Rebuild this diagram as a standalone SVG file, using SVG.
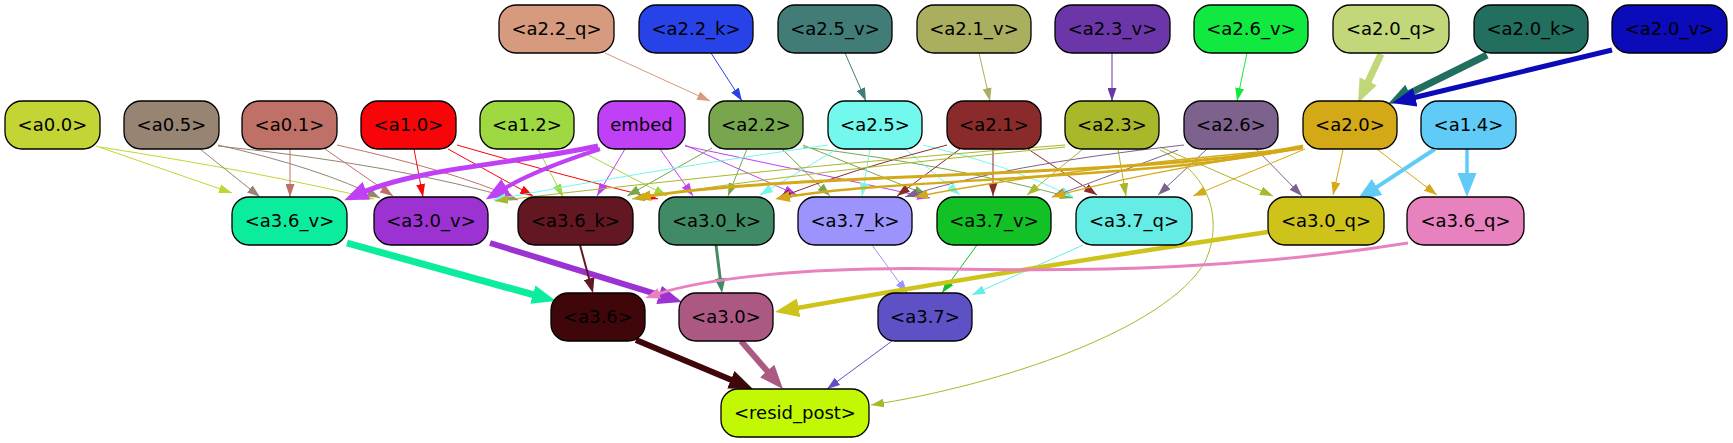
<svg xmlns="http://www.w3.org/2000/svg" width="1733" height="443" viewBox="0 0 1733 443">
<style>
.n rect{stroke:#000;stroke-width:1.3}
.n text{font-family:"DejaVu Sans",Verdana,sans-serif;font-size:18px;text-anchor:middle;fill:#000}
#edges path{fill:none;stroke-width:1}
.s{marker-end:url(#as)}
.m{marker-end:url(#am)}
.l{marker-end:url(#al)}
</style>
<defs>
<marker id="as" viewBox="0 0 13 9" refX="13" refY="4.5" markerWidth="13" markerHeight="9" markerUnits="userSpaceOnUse" orient="auto"><path d="M0,0L13,4.5L0,9z" fill="context-stroke"/></marker>
<marker id="am" viewBox="0 0 15 11" refX="2" refY="5.5" markerWidth="15" markerHeight="11" markerUnits="userSpaceOnUse" orient="auto"><path d="M0,0L15,5.5L0,11z" fill="context-stroke"/></marker>
<marker id="al" viewBox="0 0 24 19" refX="4" refY="9.5" markerWidth="24" markerHeight="19" markerUnits="userSpaceOnUse" orient="auto"><path d="M0,0L24,9.5L0,19z" fill="context-stroke"/></marker>
</defs>
<rect width="1733" height="443" fill="#fff"/>
<g id="edges">
<path class="s" d="M605,53 L710,101" stroke="#d69a7e"/>
<path class="s" d="M711,53 L742,101" stroke="#2743e8"/>
<path class="s" d="M845,53 L866,101" stroke="#417d76"/>
<path class="s" d="M979,53 L990,101" stroke="#a9af5f"/>
<path class="s" d="M1112,53 L1112,101" stroke="#6b37a8"/>
<path class="s" d="M1247,53 L1237,101" stroke="#11e840"/>
<path class="l" d="M1381,54 L1366.5,84.9" stroke="#c2d77a" style="stroke-width:7"/>
<path class="l" d="M1487,55 L1405.9,95.1" stroke="#226f5f" style="stroke-width:7"/>
<path class="l" d="M1612,50 L1411.4,98.3" stroke="#0b0bb9" style="stroke-width:5"/>

<path class="s" d="M96,146 L232,193" stroke="#c2d534"/>
<path class="s" d="M100,147 Q260,172 374,199" stroke="#c2d534"/>
<path class="s" d="M200,149 L260,197" stroke="#978472"/>
<path class="s" d="M218,145 Q320,168 380,198" stroke="#978472"/>
<path class="s" d="M218,146 Q400,165 518,200" stroke="#978472"/>
<path class="s" d="M290,149 L290,197" stroke="#c07167"/>
<path class="s" d="M325,149 L393,196" stroke="#c07167"/>
<path class="s" d="M337,145 Q450,170 515,198" stroke="#c07167"/>
<path class="s" d="M414,149 L423,197" stroke="#f8050a"/>
<path class="s" d="M448,149 L533,196" stroke="#f8050a"/>
<path class="s" d="M457,145 Q560,175 658,199" stroke="#f8050a"/>
<path class="s" d="M538,149 L563,197" stroke="#9ed942"/>
<path class="s" d="M575,148 L667,196" stroke="#9ed942"/>
<path class="l" d="M598,146 C520,163 420,168 362.6,192.4" stroke="#c040f5" style="stroke-width:5"/>
<path class="l" d="M600,149 Q535,170 502.9,189.3" stroke="#c040f5" style="stroke-width:4"/>
<path class="s" d="M625,149 L597,196" stroke="#c040f5"/>
<path class="s" d="M660,149 L693,196" stroke="#c040f5"/>
<path class="s" d="M685,145 L797,195" stroke="#c040f5"/>
<path class="s" d="M685,146 Q800,170 930,198" stroke="#c040f5"/>
<path class="s" d="M712,148 L627,196" stroke="#78a64e"/>
<path class="s" d="M747,149 L728,196" stroke="#78a64e"/>
<path class="s" d="M782,149 L830,196" stroke="#78a64e"/>
<path class="s" d="M803,145 L927,195" stroke="#78a64e"/>
<path class="s" d="M803,147 Q950,165 1073,198" stroke="#78a64e"/>
<path class="s" d="M828,145 Q650,170 493,200" stroke="#72f8ec"/>
<path class="s" d="M837,149 L760,195" stroke="#72f8ec"/>
<path class="s" d="M870,149 L862,196" stroke="#72f8ec"/>
<path class="s" d="M905,149 L960,195" stroke="#72f8ec"/>
<path class="s" d="M923,145 Q1010,165 1073,197" stroke="#72f8ec"/>
<path class="s" d="M947,145 Q850,170 778,198" stroke="#8a2b2b"/>
<path class="s" d="M960,149 L897,196" stroke="#8a2b2b"/>
<path class="s" d="M993,149 L993,196" stroke="#8a2b2b"/>
<path class="s" d="M1028,149 L1097,195" stroke="#8a2b2b"/>
<path class="s" d="M1065,145 Q800,165 495,201" stroke="#a8b82a"/>
<path class="s" d="M1065,147 Q800,172 632,199" stroke="#a8b82a"/>
<path class="s" d="M1083,149 L1027,195" stroke="#a8b82a"/>
<path class="s" d="M1118,149 L1126,196" stroke="#a8b82a"/>
<path class="s" d="M1160,147 L1273,196" stroke="#a8b82a"/>
<path class="s" d="M1160,150 C1215,175 1222,225 1205,262 C1165,330 1000,385 871,405" stroke="#a8b82a"/>
<path class="s" d="M1184,145 Q1000,165 905,197" stroke="#7e628e"/>
<path class="s" d="M1178,150 L1052,197" stroke="#7e628e"/>
<path class="s" d="M1207,149 L1158,195" stroke="#7e628e"/>
<path class="s" d="M1255,148 L1302,196" stroke="#7e628e"/>
<path class="m" d="M1303,146 C1150,178 800,172 648.8,196" stroke="#d3a918" style="stroke-width:3"/>
<path class="m" d="M1303,147 C1150,180 900,178 787.8,196.8" stroke="#d3a918" style="stroke-width:2.5"/>
<path class="s" d="M1303,148 Q1050,170 915,197" stroke="#d3a918" style="stroke-width:1.5"/>
<path class="s" d="M1303,149 Q1150,170 1052,197" stroke="#d3a918" style="stroke-width:1.2"/>
<path class="s" d="M1305,149 L1193,196" stroke="#d3a918"/>
<path class="s" d="M1343,150 L1333,195" stroke="#d3a918"/>
<path class="s" d="M1378,150 L1437,195" stroke="#d3a918"/>
<path class="l" d="M1435,149 L1373.7,189.1" stroke="#60cbf6" style="stroke-width:4"/>
<path class="l" d="M1467,149 L1467,177" stroke="#60cbf6" style="stroke-width:3.5"/>

<path class="l" d="M347,243 L536.7,295.7" stroke="#0bed9c" style="stroke-width:7"/>
<path class="l" d="M490,243 L662.9,296.1" stroke="#9c32d2" style="stroke-width:6"/>
<path class="m" d="M580,245 L589.6,280.5" stroke="#631722" style="stroke-width:2"/>
<path class="m" d="M716,245 L720.4,280.1" stroke="#418a66" style="stroke-width:3"/>
<path class="s" d="M872,245 L907,293" stroke="#9c94fc"/>
<path class="s" d="M977,245 L942,293" stroke="#12c126"/>
<path class="s" d="M1083,245 L972,295" stroke="#64ece5"/>
<path class="l" d="M1268,232 Q1000,272 794.7,308.5" stroke="#cdc31b" style="stroke-width:4.5"/>
<path class="m" d="M1408,243 C1250,268 1100,272 950,269 C800,266 700,280 657.4,294" stroke="#e882bf" style="stroke-width:3"/>

<path class="l" d="M636,340 L734.5,381.3" stroke="#40070b" style="stroke-width:6"/>
<path class="l" d="M741,341 L769.8,374" stroke="#ab5983" style="stroke-width:6"/>
<path class="s" d="M892,341 L827,389" stroke="#5e51c5"/>
</g>

<g id="a2.2_q" class="n"><rect x="499" y="5" width="115" height="48" rx="17" fill="#d69a7e"/><text x="556.5" y="35">&lt;a2.2_q&gt;</text></g>
<g id="a2.2_k" class="n"><rect x="639" y="5" width="114" height="48" rx="17" fill="#2743e8"/><text x="696" y="35">&lt;a2.2_k&gt;</text></g>
<g id="a2.5_v" class="n"><rect x="778" y="5" width="114" height="48" rx="17" fill="#417d76"/><text x="835" y="35">&lt;a2.5_v&gt;</text></g>
<g id="a2.1_v" class="n"><rect x="917" y="5" width="114" height="48" rx="17" fill="#a9af5f"/><text x="974" y="35">&lt;a2.1_v&gt;</text></g>
<g id="a2.3_v" class="n"><rect x="1055" y="5" width="115" height="48" rx="17" fill="#6b37a8"/><text x="1112.5" y="35">&lt;a2.3_v&gt;</text></g>
<g id="a2.6_v" class="n"><rect x="1194" y="5" width="114" height="48" rx="17" fill="#11e840"/><text x="1251" y="35">&lt;a2.6_v&gt;</text></g>
<g id="a2.0_q" class="n"><rect x="1333" y="5" width="116" height="48" rx="17" fill="#c2d77a"/><text x="1391" y="35">&lt;a2.0_q&gt;</text></g>
<g id="a2.0_k" class="n"><rect x="1474" y="5" width="114" height="48" rx="17" fill="#226f5f"/><text x="1531" y="35">&lt;a2.0_k&gt;</text></g>
<g id="a2.0_v" class="n"><rect x="1612" y="5" width="115" height="48" rx="17" fill="#0b0bb9"/><text x="1669.5" y="35">&lt;a2.0_v&gt;</text></g>

<g id="a0.0" class="n"><rect x="5" y="101" width="95" height="48" rx="17" fill="#c2d534"/><text x="52.5" y="131">&lt;a0.0&gt;</text></g>
<g id="a0.5" class="n"><rect x="124" y="101" width="95" height="48" rx="17" fill="#978472"/><text x="171.5" y="131">&lt;a0.5&gt;</text></g>
<g id="a0.1" class="n"><rect x="242" y="101" width="95" height="48" rx="17" fill="#c07167"/><text x="289.5" y="131">&lt;a0.1&gt;</text></g>
<g id="a1.0" class="n"><rect x="361" y="101" width="95" height="48" rx="17" fill="#f8050a"/><text x="408.5" y="131">&lt;a1.0&gt;</text></g>
<g id="a1.2" class="n"><rect x="480" y="101" width="94" height="48" rx="17" fill="#9ed942"/><text x="527" y="131">&lt;a1.2&gt;</text></g>
<g id="embed" class="n"><rect x="598" y="101" width="87" height="48" rx="17" fill="#c040f5"/><text x="641.5" y="131">embed</text></g>
<g id="a2.2" class="n"><rect x="709" y="101" width="94" height="48" rx="17" fill="#78a64e"/><text x="756" y="131">&lt;a2.2&gt;</text></g>
<g id="a2.5" class="n"><rect x="828" y="101" width="94" height="48" rx="17" fill="#72f8ec"/><text x="875" y="131">&lt;a2.5&gt;</text></g>
<g id="a2.1" class="n"><rect x="947" y="101" width="94" height="48" rx="17" fill="#8a2b2b"/><text x="994" y="131">&lt;a2.1&gt;</text></g>
<g id="a2.3" class="n"><rect x="1065" y="101" width="94" height="48" rx="17" fill="#a8b82a"/><text x="1112" y="131">&lt;a2.3&gt;</text></g>
<g id="a2.6" class="n"><rect x="1184" y="101" width="94" height="48" rx="17" fill="#7e628e"/><text x="1231" y="131">&lt;a2.6&gt;</text></g>
<g id="a2.0" class="n"><rect x="1303" y="101" width="94" height="48" rx="17" fill="#d3a918"/><text x="1350" y="131">&lt;a2.0&gt;</text></g>
<g id="a1.4" class="n"><rect x="1421" y="101" width="95" height="48" rx="17" fill="#60cbf6"/><text x="1468.5" y="131">&lt;a1.4&gt;</text></g>

<g id="a3.6_v" class="n"><rect x="232" y="197" width="115" height="48" rx="17" fill="#0bed9c"/><text x="289.5" y="227">&lt;a3.6_v&gt;</text></g>
<g id="a3.0_v" class="n"><rect x="374" y="197" width="114" height="48" rx="17" fill="#9c32d2"/><text x="431" y="227">&lt;a3.0_v&gt;</text></g>
<g id="a3.6_k" class="n"><rect x="518" y="197" width="115" height="48" rx="17" fill="#631722"/><text x="575.5" y="227">&lt;a3.6_k&gt;</text></g>
<g id="a3.0_k" class="n"><rect x="659" y="197" width="115" height="48" rx="17" fill="#418a66"/><text x="716.5" y="227">&lt;a3.0_k&gt;</text></g>
<g id="a3.7_k" class="n"><rect x="798" y="197" width="114" height="48" rx="17" fill="#9c94fc"/><text x="855" y="227">&lt;a3.7_k&gt;</text></g>
<g id="a3.7_v" class="n"><rect x="937" y="197" width="114" height="48" rx="17" fill="#12c126"/><text x="994" y="227">&lt;a3.7_v&gt;</text></g>
<g id="a3.7_q" class="n"><rect x="1076" y="197" width="116" height="48" rx="17" fill="#64ece5"/><text x="1134" y="227">&lt;a3.7_q&gt;</text></g>
<g id="a3.0_q" class="n"><rect x="1268" y="197" width="116" height="48" rx="17" fill="#cdc31b"/><text x="1326" y="227">&lt;a3.0_q&gt;</text></g>
<g id="a3.6_q" class="n"><rect x="1407" y="197" width="117" height="48" rx="17" fill="#e882bf"/><text x="1465.5" y="227">&lt;a3.6_q&gt;</text></g>

<g id="a3.6" class="n"><rect x="551" y="293" width="94" height="48" rx="17" fill="#40070b"/><text x="598" y="323">&lt;a3.6&gt;</text></g>
<g id="a3.0" class="n"><rect x="679" y="293" width="94" height="48" rx="17" fill="#ab5983"/><text x="726" y="323">&lt;a3.0&gt;</text></g>
<g id="a3.7" class="n"><rect x="878" y="293" width="94" height="48" rx="17" fill="#5e51c5"/><text x="925" y="323">&lt;a3.7&gt;</text></g>

<g id="resid_post" class="n"><rect x="721" y="389" width="148" height="48" rx="17" fill="#c2f804"/><text x="795" y="419">&lt;resid_post&gt;</text></g>
</svg>
